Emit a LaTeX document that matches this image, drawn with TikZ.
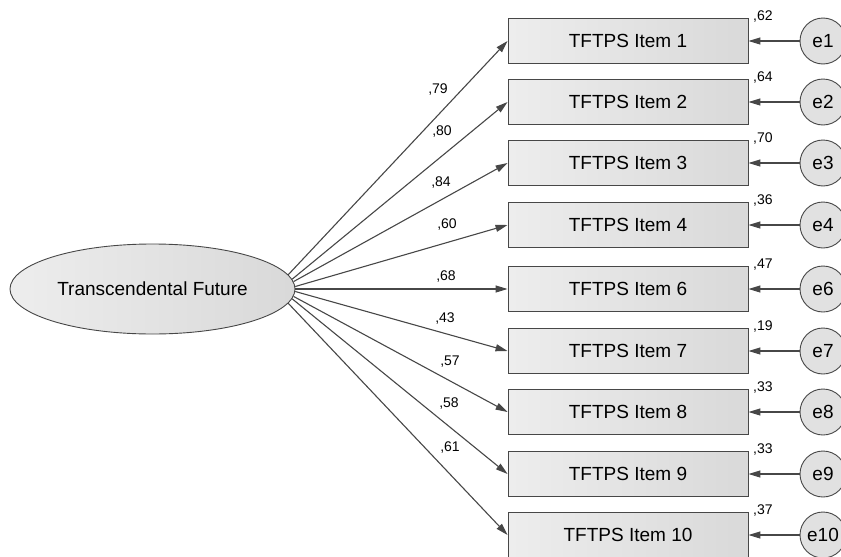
\documentclass[tikz,border=0pt]{standalone}
\usepackage{fontspec}
\setmainfont{Liberation Sans}
\usepackage{xcolor}
\definecolor{lGray}{gray}{0.93}
\definecolor{mGray}{gray}{0.85}
\definecolor{dGray}{gray}{0.28}
\usetikzlibrary{arrows.meta}
\usetikzlibrary{shapes.geometric}

\begin{document}
\begin{tikzpicture}[x=1pt, y=-1pt,
    item/.style={draw=dGray, line width=0.9pt, left color=lGray, right color=mGray,
      minimum width=240pt, minimum height=45pt, font=\fontsize{19}{22}\selectfont},
    err/.style={circle, draw=dGray, line width=0.9pt, fill=lGray!95!black,
      minimum size=46pt, inner sep=0pt, font=\fontsize{19}{22}\selectfont},
    load/.style={draw=dGray, line width=1.1pt, -{Triangle[length=12pt,width=7pt]}},
    est/.style={inner sep=0pt, font=\fontsize{14}{16}\selectfont}]
  \useasboundingbox (0,0) rectangle (841,557);
  % latent factor
  \node [ellipse, draw=dGray, line width=0.9pt, left color=lGray, right color=mGray,
    inner sep=0pt, minimum width=285pt, minimum height=90pt,
    font=\fontsize{19}{22}\selectfont] (tf) at (152.5,289) {Transcendental Future};
  % items, errors, loadings and R^2
  \foreach \n/\y/\a/\l/\lx/\ly/\r in {1/41/6/79/438/90/62, 2/102/4.5/80/442/132/64,
      3/163/3/84/441/183/70, 4/225/1.5/60/447/225/36, 6/289/0/68/446/277/47,
      7/351/-1.5/43/445/319/19, 8/412/-3/57/450/362/33, 9/474/-4.5/58/449/404/33,
      10/535/-6/61/450/448/37} {
    \node [item] (i\n) at (628,\y) {TFTPS Item \n};
    \node [err] (e\n) at (823,\y) {e\n};
    \draw [load] (tf.\a) -- (i\n.west);
    \draw [load] (e\n) -- (i\n.east);
    \node [est] (l\n) at (\lx,\ly) {,\l};
    \node [est, anchor=base west] (r\n) at (753,\y-21) {,\r};
  }
\end{tikzpicture}
\end{document}
